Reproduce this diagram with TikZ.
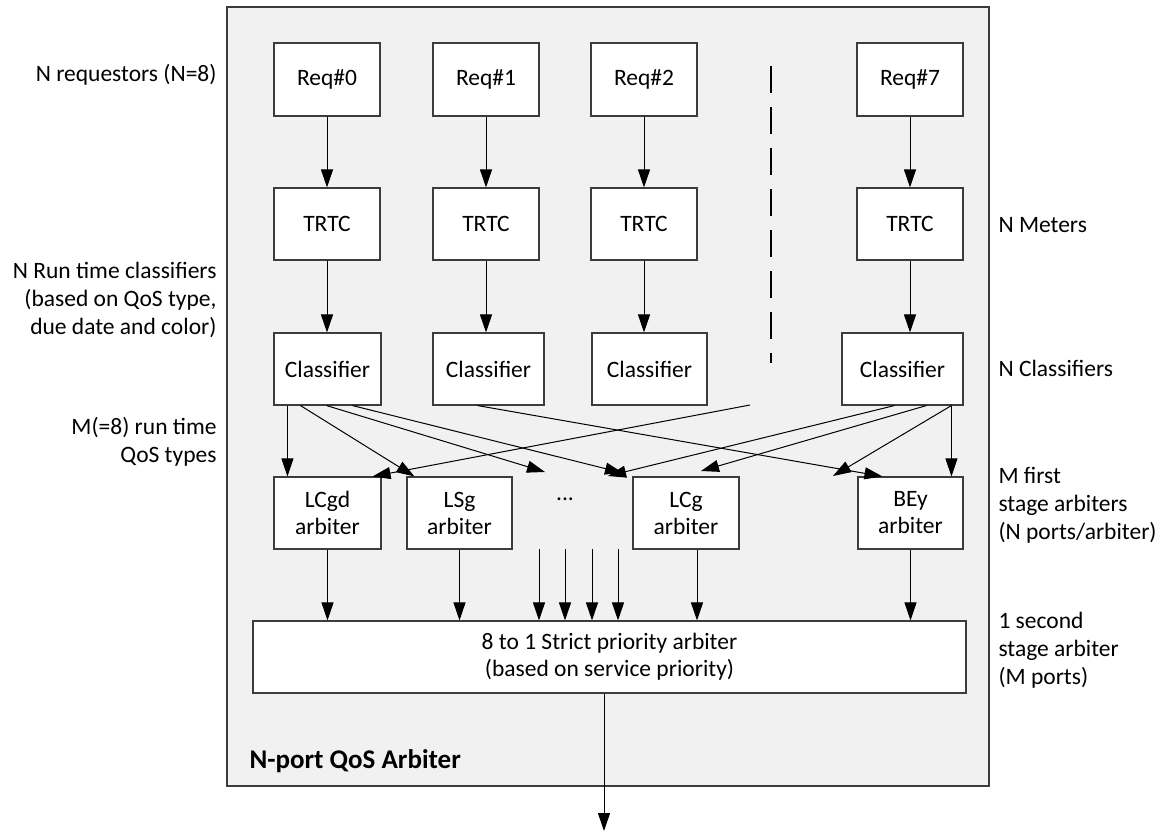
\documentclass[tikz,border=0pt]{standalone}
\usepackage{fontspec}
\setmainfont{Carlito}
\usetikzlibrary{calc}
\usetikzlibrary{arrows.meta}

\definecolor{bggray}{RGB}{241,241,241}
\definecolor{edgegray}{RGB}{60,60,60}
\tikzset{
 blk/.style={draw=edgegray, fill=white, line width=1.1pt, inner sep=0pt, align=center,
   minimum height=72pt, font=\fontsize{23.5}{27}\selectfont},
 lbl/.style={inner sep=0pt, font=\fontsize{23.5}{28}\selectfont},
}

\begin{document}
\begin{tikzpicture} [x=1pt, y=-1pt, line width=1pt, >={Triangle[length=18pt, width=12pt]}]
\useasboundingbox (0,0) rectangle (1168,832);
\draw[edgegray, fill=bggray, line width=1.3pt] (227,7) rectangle (989,786);
% requestors and meters
\foreach \n/\x in {0/327, 1/486, 2/644, 7/910} {
 \node[blk, minimum width=106pt, minimum height=73pt] (req\n) at (\x,79.5) {Req\#\n};
 \node[blk, minimum width=106pt] (trtc\n) at (\x,224) {TRTC};
 \draw[->] (req\n) -- (trtc\n);
}
% classifiers
\foreach \n/\x/\w in {0/327.5/107, 1/488.5/111, 2/649.5/115, 7/902.5/121} {
 \node[blk, minimum width=\w pt] (cl\n) at (\x,369) {Classifier};
 \draw[->] (trtc\n.south) -- (trtc\n.south |- cl\n.north);
}
\draw[line width=1.3pt, dash pattern=on 27pt off 14pt] (771,66) coordinate (dtop) -- (771,363) coordinate (dbot);
% first stage arbiters
\foreach \n/\x/\w/\t in {lcgd/327.5/107/LCgd, lsg/459.5/105/LSg, lcg/686/106/LCg, bey/910.5/105/BEy} {
 \node[blk, minimum width=\w pt] (\n) at (\x,513) {\t\\arbiter};
}
\node[lbl, anchor=base] (dots) at (565,500) {...};
% second stage arbiter
\node[blk, minimum width=713pt] (strict) at (609.5,657) {8 to 1 Strict priority arbiter\\(based on service priority)};

% classifier outputs
\coordinate (dashend) at (750,405);
\coordinate (t1) at (545,472);
\coordinate (t2) at (623,473);
\coordinate (t3) at (608,476);
\coordinate (t4) at (701,471);
\coordinate (t5) at (833,476);
\draw[->] ($(cl0.south west)+(14,0)$) coordinate (a0) -- (a0 |- lcgd.north);
\draw[->] ($(cl0.south west)+(27,0)$) -- ($(lsg.north west)+(8,0)$);
\draw[->] ($(cl0.south west)+(53,0)$) -- (t1);
\draw[->] ($(cl0.south west)+(79,0)$) -- (t2);
\draw[->] ($(cl1.south west)+(45,0)$) -- ($(bey.north west)+(25,0)$);
\draw[->] (dashend) -- ($(lcgd.north east)+(-9,0)$);
\draw[->] ($(cl7.south west)+(53,0)$) -- (t3);
\draw[->] ($(cl7.south west)+(85,0)$) -- (t4);
\draw[->] ($(cl7.south west)+(110,0)$) coordinate (a7) -- (t5);
\draw[->] (a7) -- (a7 |- bey.north);

% into the strict priority arbiter
\draw[->] (lcgd.south) -- (lcgd.south |- strict.north);
\draw[->] (lsg.south) -- (lsg.south |- strict.north);
\draw[->] ($(lcg.south)+(11,0)$) coordinate (g) -- (g |- strict.north);
\draw[->] (bey.south) -- (bey.south |- strict.north);
\foreach \x in {539, 565, 592, 618} {
 \draw[->] (\x,549) -- (strict.north -| \x,0);
}
\coordinate (out) at (604,831);
\draw[->] (strict.south -| out) -- (out);

% side texts
\node[lbl, anchor=east] (reqtxt) at (217,75) {N requestors (N=8)};
\node[lbl, anchor=east, align=right] (cltxt) at (217,300) {N Run time classifiers\\(based on QoS type,\\due date and color)};
\node[lbl, anchor=east, align=right] (qostxt) at (217,442) {M(=8) run time\\QoS types};
\node[lbl, anchor=west] (metxt) at (998,225) {N Meters};
\node[lbl, anchor=west] (clrtxt) at (998,368) {N Classifiers};
\node[lbl, anchor=west, align=left] (firsttxt) at (998,505) {M first\\stage arbiters\\(N ports/arbiter)};
\node[lbl, anchor=west, align=left] (sectxt) at (998,650) {1 second\\stage arbiter\\(M ports)};
\node[lbl, anchor=base west, font=\fontsize{27}{32}\selectfont\bfseries] (title) at (249,768) {N-port QoS Arbiter};
\end{tikzpicture}
\end{document}
